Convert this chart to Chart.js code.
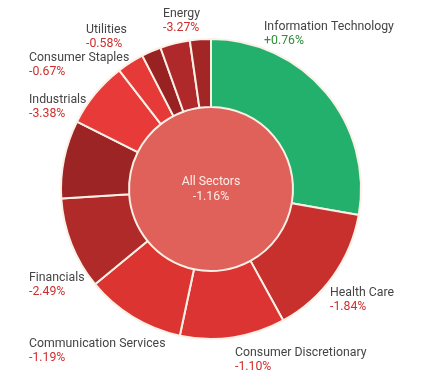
<!DOCTYPE html>
<html>
<head>
<meta charset="utf-8">
<script src="https://cdn.jsdelivr.net/npm/chart.js@4.4.0/dist/chart.umd.min.js"></script>
<style>
  html, body { margin: 0; padding: 0; background: #fff; }
  #sectorChart { display: block; }
</style>
</head>
<body>
<canvas id="sectorChart" width="422" height="375"></canvas>
<script>
// sector weights (share of the index) and daily change in %
var sectorLabels = ['Information Technology', 'Health Care', 'Consumer Discretionary', 'Communication Services',
  'Financials', 'Industrials', 'Consumer Staples', 'Utilities', 'Real Estate', 'Materials', 'Energy'];
var sectorWeights = [27.7, 14.2, 11.3, 10.7, 9.9, 8.4, 7.1, 2.9, 2.1, 3.2, 2.25];
var sectorChanges = [0.76, -1.84, -1.10, -1.19, -2.49, -3.38, -0.67, -0.58, null, null, -3.27];
var totalLabel = 'All Sectors';
var totalChange = -1.16;

var sectorColors = ['#22b06c', '#c8302d', '#dc3432', '#db3431', '#b02a29', '#9c2424',
  '#e83b39', '#e53a38', '#982222', '#b0292a', '#a22626'];
var totalColor = '#e0605a';
var sepColor = '#fbf0e6';

// where each label sits, relative to the chart centre (left edge, name baseline)
var labelOffsets = [[53, -159], [119, 107], [24, 167], [-182, 158], [-182, 92], [-182, -86],
  [-182, -128], [-125, -156], null, null, [-48, -172]];

function fmtChange(v) {
  return (v > 0 ? '+' : '') + v.toFixed(2) + '%';
}

var labelPlugin = {
  id: 'sectorLabels',
  afterDraw: function(chart) {
    var ctx = chart.ctx;
    var arc = chart.getDatasetMeta(1).data[0];
    var cx = arc.x, cy = arc.y;
    ctx.save();
    ctx.font = '12.3px Roboto';
    ctx.textBaseline = 'alphabetic';
    ctx.textAlign = 'left';
    sectorLabels.forEach(function(name, i) {
      var off = labelOffsets[i];
      if (!off || sectorChanges[i] === null) return;
      var x = cx + off[0], y = cy + off[1];
      ctx.fillStyle = '#444444';
      ctx.fillText(name, x, y);
      ctx.fillStyle = sectorChanges[i] >= 0 ? '#2e8f35' : '#cf2e2e';
      ctx.fillText(fmtChange(sectorChanges[i]), x, y + 14);
    });
    ctx.textAlign = 'center';
    ctx.fillStyle = 'rgba(255, 245, 240, 0.95)';
    ctx.fillText(totalLabel, cx, cy - 4);
    ctx.fillText(fmtChange(totalChange), cx, cy + 11);
    ctx.restore();
  }
};

var ctx = document.getElementById('sectorChart');
var sectorChart = new Chart(ctx, {
  type: 'doughnut',
  data: {
    labels: sectorLabels,
    datasets: [{
      label: 'Sectors',
      data: sectorWeights,
      backgroundColor: sectorColors,
      borderColor: sepColor,
      borderWidth: 2,
      weight: 68
    }, {
      label: totalLabel,
      data: [100],
      backgroundColor: [totalColor],
      borderWidth: 0,
      weight: 82
    }]
  },
  options: {
    responsive: false,
    animation: false,
    cutout: 0,
    events: [],
    layout: { padding: { left: 60, right: 60, top: 38, bottom: 35 } },
    plugins: {
      legend: { display: false },
      tooltip: { enabled: false }
    }
  },
  plugins: [labelPlugin]
});
</script>
</body>
</html>
